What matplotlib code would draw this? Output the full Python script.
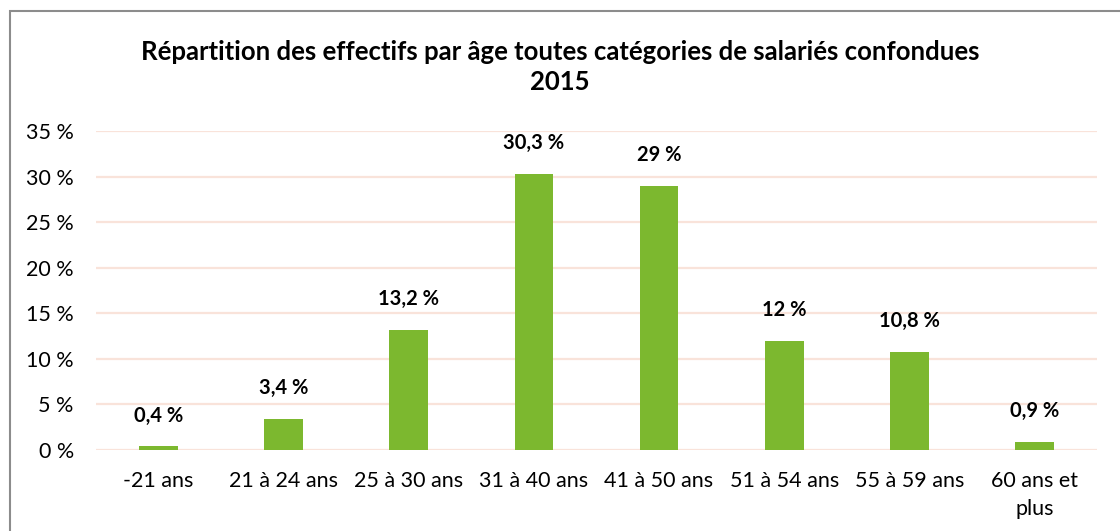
import matplotlib
matplotlib.use("Agg")
import matplotlib.pyplot as plt
from matplotlib.patches import Rectangle

categories = ["-21 ans", "21 à 24 ans", "25 à 30 ans", "31 à 40 ans", "41 à 50 ans",
              "51 à 54 ans", "55 à 59 ans", "60 ans et\nplus"]
values = [0.4, 3.4, 13.2, 30.3, 29.0, 12.0, 10.8, 0.9]
value_labels = ["0,4 %", "3,4 %", "13,2 %", "30,3 %", "29 %", "12 %", "10,8 %", "0,9 %"]
yticks = [0, 5, 10, 15, 20, 25, 30, 35]
ytick_labels = ["0 %", "5 %", "10 %", "15 %", "20 %", "25 %", "30 %", "35 %"]
title = "Répartition des effectifs par âge toutes catégories de salariés confondues\n2015"

plt.rcParams['font.family'] = ['Lato', 'DejaVu Sans']

W, H = 1120, 531
fig = plt.figure(figsize=(W / 100, H / 100), dpi=100)
ax = fig.add_axes([96 / W, 1 - 450 / H, (1097 - 96) / W, (450 - 131) / H])

x = list(range(len(categories)))
ax.bar(x, values, width=0.31, color="#7CB82F", zorder=3)
ax.set_xlim(-0.5, len(categories) - 0.5)
ax.set_ylim(0, 35)
ax.set_yticks(yticks)
ax.set_yticklabels(ytick_labels, fontsize=15.5)
ax.set_xticks(x)
ax.set_xticklabels(categories, fontsize=15.5, linespacing=1.5)
ax.tick_params(axis='both', length=0, colors="#000000")
ax.tick_params(axis='y', pad=16)
ax.tick_params(axis='x', pad=15)
ax.yaxis.grid(True, color="#F9E3DA", linewidth=1.6, zorder=0)
for s in ax.spines.values():
    s.set_visible(False)

for xi, v, lab in zip(x, values, value_labels):
    ax.annotate(lab, (xi, v), xytext=(0, 15), textcoords="offset points",
                ha="center", va="bottom", fontsize=14.5, fontweight="bold")

fig.text(0.5, 1 - 67 / H, title, ha="center", va="center", fontsize=18.5,
         fontweight="bold", linespacing=1.3)

fig.patches.append(Rectangle((9.5 / W, -0.05), 1.2, 1 - 10.5 / H + 0.05,
                             transform=fig.transFigure, fill=False,
                             edgecolor="#8C8C8C", linewidth=1.5))

fig.savefig("out.png", dpi=100)
